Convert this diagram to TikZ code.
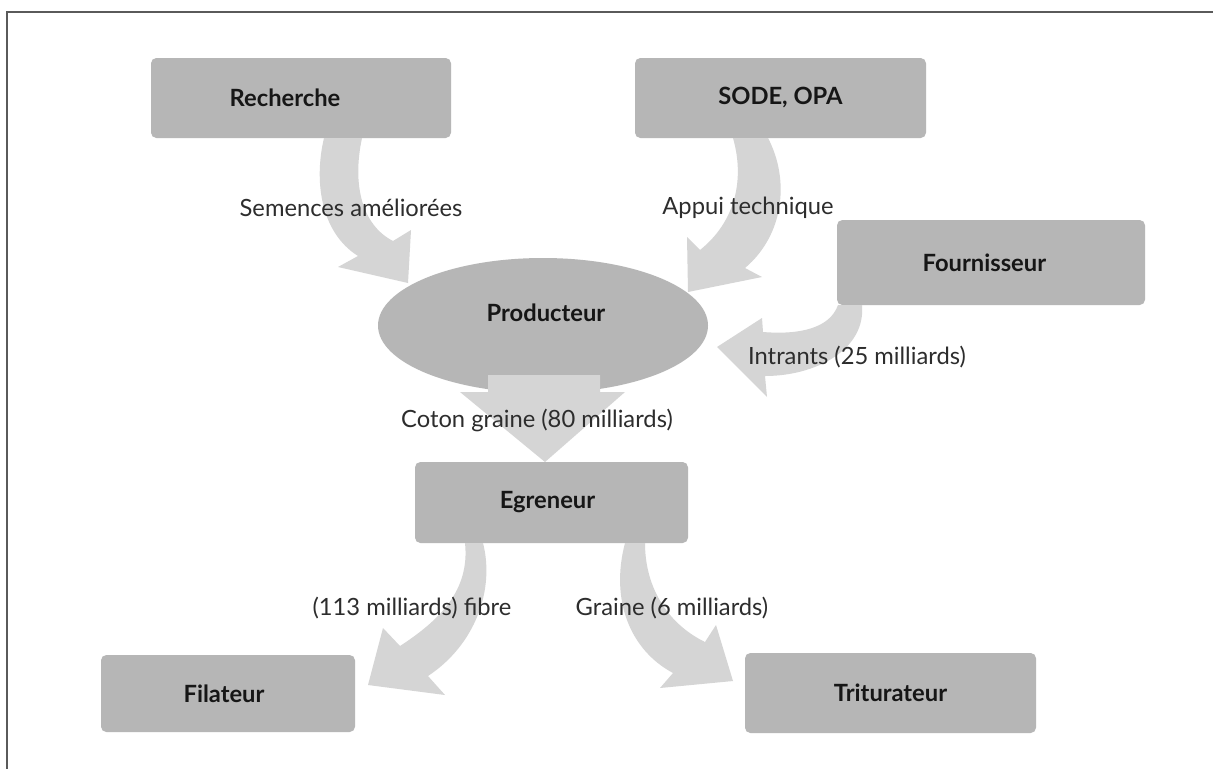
\documentclass[tikz,border=0pt]{standalone}
\usepackage{fontspec}
\setmainfont{Lato}
\usetikzlibrary{shapes.geometric}
\definecolor{boxgray}{RGB}{182,182,182}
\definecolor{arrgray}{RGB}{213,213,213}
\definecolor{txt}{RGB}{22,22,22}
\definecolor{lbltxt}{RGB}{45,45,45}
\definecolor{framec}{RGB}{90,90,90}
\begin{document}
\begin{tikzpicture}[x=0.75pt,y=-0.75pt,
  box/.style={rectangle,rounded corners=4pt,fill=boxgray,draw=none,inner sep=0pt,
    font=\bfseries\fontsize{17.8}{21}\selectfont,text=txt},
  oval/.style={ellipse,fill=boxgray,draw=none,inner sep=0pt},
  boldtxt/.style={font=\bfseries\fontsize{17.8}{21}\selectfont,text=txt,inner sep=1pt},
  lbl/.style={font=\fontsize{17.8}{21}\selectfont,text=lbltxt,inner sep=1pt},
  blockarrow/.style={fill=arrgray,draw=none}]
\useasboundingbox (0,0) rectangle (1213,768);
\fill[white] (0,0) rectangle (1213,768);
% frame
\draw[framec,line width=1.6pt] (7,780) -- (7,12) -- (1230,12);

% nodes
\node[box,minimum width=225pt,minimum height=60pt] (rech) at (301,98) {\hspace*{-24pt}Recherche};
\node[box,minimum width=218.25pt,minimum height=60pt] (sode) at (780.5,98) {SODE, OPA};
\node[box,minimum width=231pt,minimum height=63.75pt] (four) at (991,262.5) {\hspace*{-10pt}Fournisseur};
\node[oval,minimum width=247.5pt,minimum height=101.25pt] (prod) at (543,325.5) {};
\node[box,minimum width=204.75pt,minimum height=60.75pt] (egr) at (551.5,502.5) {\hspace*{-6pt}Egreneur};
\node[box,minimum width=190.5pt,minimum height=57.75pt] (fil) at (228,693.5) {\hspace*{-6pt}Filateur};
\node[box,minimum width=218.25pt,minimum height=60pt] (trit) at (890.5,693) {Triturateur};

% block arrows
% Recherche -> Producteur
\path[blockarrow] (324,138) -- (362,138)
  .. controls (352,185) and (362,225) .. (393,241)
  -- (411,230) -- (408,283) -- (338,267) -- (358,256)
  .. controls (320,232) and (314,180) .. (324,138) -- cycle;
% SODE -> Producteur
\path[blockarrow] (733,138) -- (768,138)
  .. controls (790,180) and (784,235) .. (745,268)
  -- (762,277) -- (688,292) -- (687,237) -- (700,250)
  .. controls (735,222) and (745,180) .. (733,138) -- cycle;
% Fournisseur -> Producteur
\path[blockarrow] (838,305) -- (862,305)
  .. controls (866,350) and (815,376) .. (765,376)
  -- (767,397) -- (717,347) -- (762,318) -- (763,332)
  .. controls (800,335) and (830,328) .. (838,305) -- cycle;
% Producteur -> Egreneur
\path[blockarrow] (488,375) -- (600,375) -- (600,392) -- (625,392)
  -- (545,462) -- (460,392) -- (488,392) -- cycle;
% Egreneur -> Filateur
\path[blockarrow] (465,543) -- (483,543)
  .. controls (495,590) and (475,645) .. (428,676)
  -- (445,695) -- (368,685) -- (383,628) -- (400,646)
  .. controls (440,620) and (470,590) .. (465,543) -- cycle;
% Egreneur -> Triturateur
\path[blockarrow] (625,543) -- (645,543)
  .. controls (645,590) and (670,625) .. (705,642)
  -- (716,625) -- (733,681) -- (660,688) -- (673,673)
  .. controls (630,650) and (610,600) .. (625,543) -- cycle;

% text on ellipse
\node[boldtxt] (prodtxt) at (546,313) {Producteur};

% labels
\node[lbl] (l1) at (351,208) {Semences améliorées};
\node[lbl] (l2) at (748,208) {Appui technique};
\node[lbl] (l3) at (857,357) {Intrants (25 milliards)};
\node[lbl] (l4) at (537,420) {Coton graine (80 milliards)};
\node[lbl] (l5) at (412,608) {(113 milliards) fibre};
\node[lbl] (l6) at (672,608) {Graine (6 milliards)};
\end{tikzpicture}
\end{document}
